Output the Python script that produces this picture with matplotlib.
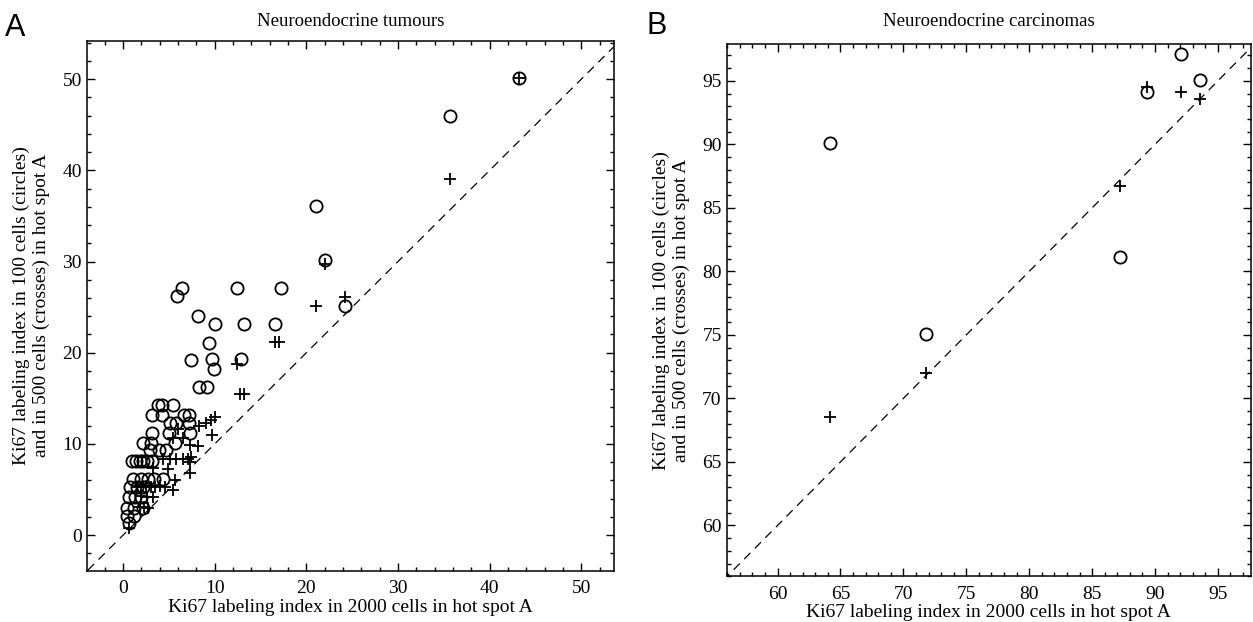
import numpy as np
import matplotlib
matplotlib.use("Agg")
import matplotlib.pyplot as plt
from matplotlib.ticker import MultipleLocator

plt.rcParams['font.family'] = ['Liberation Serif', 'DejaVu Serif']

# PANEL A - neuroendocrine tumours (x = 2000 cells, y = 100 cells / 500 cells)
a_circ_x = [43.2, 35.7, 21.1, 22.0, 6.4, 5.9, 12.4, 17.2, 24.2, 8.2,
            10.0, 13.2, 16.6, 9.4, 7.4, 9.7, 9.9, 12.9, 8.3, 9.2,
            3.8, 4.3, 5.4, 3.2, 4.3, 6.7, 7.2, 5.1, 5.8, 7.2,
            3.2, 5.0, 7.3, 2.2, 3.1, 5.7, 2.9, 3.9, 4.7,
            1.0, 1.4, 1.8, 2.2, 2.6, 3.2, 1.1, 2.0, 2.7, 3.4, 4.4,
            0.8, 1.5, 2.2, 0.6, 1.3, 2.0, 0.4, 1.2, 2.2, 0.4, 1.2, 0.6]
a_circ_y = [50.1, 46.0, 36.1, 30.2, 27.1, 26.2, 27.1, 27.1, 25.1, 24.0,
            23.1, 23.1, 23.1, 21.1, 19.2, 19.3, 18.2, 19.3, 16.2, 16.2,
            14.3, 14.3, 14.3, 13.2, 13.2, 13.2, 13.2, 12.3, 12.3, 12.3,
            11.2, 11.2, 11.2, 10.1, 10.1, 10.1, 9.3, 9.3, 9.3,
            8.1, 8.1, 8.1, 8.1, 8.1, 8.1, 6.2, 6.2, 6.2, 6.2, 6.2,
            5.3, 5.3, 5.3, 4.2, 4.2, 4.2, 3.0, 3.0, 3.0, 2.1, 2.1, 1.3]
a_cross_x = [43.2, 35.7, 22.0, 21.1, 24.2, 17.0, 16.6, 12.4, 12.8, 13.2,
             10.0, 9.6, 9.1, 8.3, 9.7, 6.0, 6.5, 5.5, 7.3, 8.2,
             7.4, 4.4, 5.1, 5.8, 6.5, 7.1, 7.3, 3.3, 4.9, 7.3,
             5.7, 5.5, 1.5, 2.0, 2.5, 3.0, 3.5, 4.0, 4.6,
             3.3, 2.0, 2.6, 1.8, 2.3, 2.7, 0.6]
a_cross_y = [50.1, 39.0, 29.7, 25.1, 26.1, 21.2, 21.2, 18.8, 15.5, 15.5,
             13.0, 12.6, 12.3, 12.0, 11.0, 11.6, 10.6, 10.6, 9.9, 9.8,
             8.6, 8.3, 8.4, 8.4, 8.4, 8.4, 8.0, 7.4, 7.2, 6.8,
             6.0, 5.0, 5.3, 5.3, 5.4, 5.3, 5.3, 5.4, 5.3,
             4.2, 4.3, 4.2, 3.1, 3.1, 3.0, 0.8]

# PANEL B - neuroendocrine carcinomas
b_x = [64.2, 71.8, 87.2, 89.4, 92.1, 93.6]
b_y100 = [90.1, 75.1, 81.1, 94.1, 97.1, 95.1]
b_y500 = [68.5, 72.0, 86.75, 94.55, 94.1, 93.55]

fig = plt.figure(figsize=(12.53, 6.22), dpi=100)
ax1 = fig.add_axes([0.0697, 0.0825, 0.4206, 0.8519])
ax2 = fig.add_axes([0.5804, 0.0736, 0.4177, 0.8556])

xlabel = 'Ki67 labeling index in 2000 cells in hot spot A'
ylabel = 'Ki67 labeling index in 100 cells (circles)\nand in 500 cells (crosses) in hot spot A'


def style_axis(ax, xlim, ylim, major, minor):
    ax.set_xlim(xlim)
    ax.set_ylim(ylim)
    # LINE OF IDENTITY
    ax.plot([-100, 200], [-100, 200], color='black', lw=0.9,
            dashes=(7, 5), zorder=1)
    ax.xaxis.set_major_locator(MultipleLocator(major))
    ax.yaxis.set_major_locator(MultipleLocator(major))
    ax.xaxis.set_minor_locator(MultipleLocator(minor))
    ax.yaxis.set_minor_locator(MultipleLocator(minor))
    ax.tick_params(which='both', direction='in', top=True, right=True,
                   width=1.0, labelsize=14)
    ax.tick_params(which='major', length=5.5)
    ax.tick_params(which='minor', length=2.8)
    ax.tick_params(axis='x', pad=7)
    ax.tick_params(axis='y', pad=4)
    for s in ax.spines.values():
        s.set_linewidth(1.1)
    ax.set_xlabel(xlabel, fontsize=14, labelpad=1)
    ax.set_ylabel(ylabel, fontsize=14, labelpad=9, linespacing=1.2)


# CIRCLES = 100 CELLS, CROSSES = 500 CELLS
ax1.plot(a_circ_x, a_circ_y, 'o', mfc='none', mec='black', ms=8.8, mew=1.3)
ax1.plot(a_cross_x, a_cross_y, '+', color='black', ms=9, mew=1.3)
style_axis(ax1, (-3.9, 53.6), (-3.9, 54.2), 10, 2)

ax2.plot(b_x, b_y100, 'o', mfc='none', mec='black', ms=8.8, mew=1.3)
ax2.plot(b_x, b_y500, '+', color='black', ms=9, mew=1.3)
style_axis(ax2, (56.0, 97.6), (56.0, 97.9), 5, 1)

fig.text(0.28, 0.965, 'Neuroendocrine tumours', ha='center', va='center', fontsize=13.5)
fig.text(0.789, 0.965, 'Neuroendocrine carcinomas', ha='center', va='center', fontsize=13.5)
fig.text(0.004, 0.955, 'A', ha='left', va='center', fontsize=22, family='Liberation Sans')
fig.text(0.516, 0.958, 'B', ha='left', va='center', fontsize=22, family='Liberation Sans')

fig.savefig('out.png', dpi=100)
